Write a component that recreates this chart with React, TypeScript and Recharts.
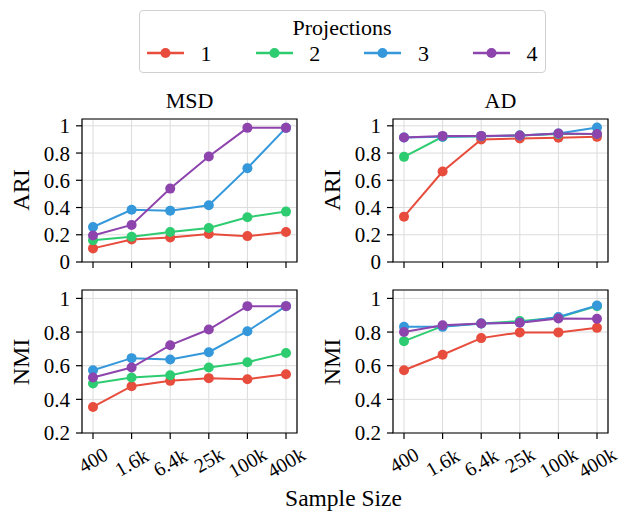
import React from "react";
import { LineChart, Line, XAxis, YAxis, CartesianGrid, ReferenceArea } from "recharts";

const sampleSizes = ["400", "1.6k", "6.4k", "25k", "100k", "400k"];
const projections = ["1", "2", "3", "4"];
const colors = ["#e74c3c", "#2ecc71", "#3498db", "#8e44ad"];

// MSD, ARI per projection
const msdAri1 = [0.1, 0.165, 0.18, 0.205, 0.19, 0.22];
const msdAri2 = [0.16, 0.185, 0.22, 0.25, 0.328, 0.37];
const msdAri3 = [0.257, 0.383, 0.377, 0.417, 0.689, 0.985];
const msdAri4 = [0.194, 0.272, 0.539, 0.775, 0.985, 0.985];

// AD, ARI
const adAri1 = [0.333, 0.664, 0.9, 0.907, 0.912, 0.919];
const adAri2 = [0.772, 0.919, 0.924, 0.929, 0.939, 0.94];
const adAri3 = [0.915, 0.92, 0.924, 0.929, 0.943, 0.988];
const adAri4 = [0.914, 0.926, 0.926, 0.929, 0.943, 0.94];

// MSD, NMI
const msdNmi1 = [0.355, 0.478, 0.51, 0.526, 0.52, 0.549];
const msdNmi2 = [0.494, 0.53, 0.543, 0.589, 0.621, 0.676];
const msdNmi3 = [0.573, 0.645, 0.637, 0.68, 0.805, 0.954];
const msdNmi4 = [0.53, 0.589, 0.722, 0.815, 0.954, 0.954];

// AD, NMI
const adNmi1 = [0.573, 0.665, 0.764, 0.798, 0.798, 0.825];
const adNmi2 = [0.746, 0.835, 0.851, 0.865, 0.887, 0.954];
const adNmi3 = [0.831, 0.831, 0.851, 0.857, 0.89, 0.958];
const adNmi4 = [0.8, 0.841, 0.851, 0.855, 0.881, 0.879];

const ariTicks = [0, 0.2, 0.4, 0.6, 0.8, 1];
const nmiTicks = [0.2, 0.4, 0.6, 0.8, 1];
const xTicks = [0, 1, 2, 3, 4, 5];

const FONT = "'Liberation Serif', 'Times New Roman', serif";
const X_DOMAIN: [number, number] = [-0.285, 5.285];

function RotTick(props: any) {
  const { x, y, payload } = props;
  const label = sampleSizes[payload.value];
  const cy = y + 8 + (label.length * 5 + 11) / 2;
  return (
    <text
      x={x}
      y={cy}
      textAnchor="middle"
      dominantBaseline="central"
      transform={`rotate(-30, ${x}, ${cy})`}
      fontSize={20}
      fontFamily={FONT}
      fill="#000"
    >
      {label}
    </text>
  );
}

function NoTick() {
  return null;
}

interface PanelProps {
  left: number;
  top: number;
  series: number[][];
  yDomain: [number, number];
  yTicks: number[];
  showLabels: boolean;
}

function Panel({ left, top, series, yDomain, yTicks, showLabels }: PanelProps) {
  const data = sampleSizes.map((_, i) => {
    const row: Record<string, number> = { x: i };
    series.forEach((vals, k) => (row[`p${k}`] = vals[i]));
    return row;
  });
  const xHeight = showLabels ? 56 : 16;
  return (
    <div style={{ position: "absolute", left, top }}>
      <LineChart
        width={330}
        height={10 + 143 + xHeight}
        data={data}
        margin={{ top: 10, right: 33, bottom: 0, left: 0 }}
      >
        <CartesianGrid stroke="#dcdcdc" strokeWidth={1} />
        <XAxis
          dataKey="x"
          type="number"
          domain={X_DOMAIN}
          ticks={xTicks}
          interval={0}
          allowDataOverflow
          height={xHeight}
          tickSize={6}
          tickMargin={0}
          axisLine={false}
          tickLine={{ stroke: "#000", strokeWidth: 1.2 }}
          tick={showLabels ? <RotTick /> : <NoTick />}
        />
        <YAxis
          type="number"
          domain={yDomain}
          ticks={yTicks}
          interval={0}
          allowDataOverflow
          width={82}
          tickSize={6}
          tickMargin={6}
          axisLine={false}
          tickLine={{ stroke: "#000", strokeWidth: 1.2 }}
          tick={{ fontSize: 21, fontFamily: FONT, fill: "#000" }}
          tickFormatter={(v: number) => String(v)}
        />
        <ReferenceArea
          x1={X_DOMAIN[0]}
          x2={X_DOMAIN[1]}
          y1={yDomain[0]}
          y2={yDomain[1]}
          fill="none"
          stroke="#000"
          strokeWidth={1.2}
          ifOverflow="visible"
        />
        {series.map((_, k) => (
          <Line
            key={k}
            dataKey={`p${k}`}
            stroke={colors[k]}
            strokeWidth={2}
            dot={{ r: 5, fill: colors[k], stroke: "none" }}
            activeDot={false}
            isAnimationActive={false}
          />
        ))}
      </LineChart>
    </div>
  );
}

function Centered({ x, y, size, rotate, children }: any) {
  return (
    <div
      style={{
        position: "absolute",
        left: x,
        top: y,
        transform: `translate(-50%, -50%)${rotate ? " rotate(-90deg)" : ""}`,
        fontSize: size,
        fontFamily: FONT,
        lineHeight: 1,
        whiteSpace: "nowrap",
        color: "#000",
      }}
    >
      {children}
    </div>
  );
}

function LegendBox() {
  return (
    <div
      style={{
        position: "absolute",
        left: 139,
        top: 10,
        width: 405,
        height: 61,
        border: "1px solid #d0d0d0",
        borderRadius: 4,
        fontFamily: FONT,
      }}
    >
      <Centered x={202} y={17} size={22}>
        Projections
      </Centered>
      {projections.map((p, k) => {
        const lx = 7 + k * 108.7;
        return (
          <React.Fragment key={p}>
            <svg
              style={{ position: "absolute", left: lx, top: 35.5 }}
              width={37}
              height={12}
            >
              <line x1={0} y1={6} x2={37} y2={6} stroke={colors[k]} strokeWidth={2.5} />
              <circle cx={18.5} cy={6} r={5} fill={colors[k]} />
            </svg>
            <Centered x={lx + 59} y={42.5} size={22}>
              {p}
            </Centered>
          </React.Fragment>
        );
      })}
    </div>
  );
}

export default function App() {
  return (
    <div
      style={{
        position: "absolute",
        left: 0,
        top: 0,
        width: 619,
        height: 512,
        background: "#fff",
        overflow: "hidden",
      }}
    >
      <LegendBox />
      <Centered x={189.5} y={100.5} size={22}>MSD</Centered>
      <Centered x={500.5} y={100.5} size={22}>AD</Centered>
      <Centered x={20.5} y={190} size={24} rotate>ARI</Centered>
      <Centered x={331.5} y={190} size={24} rotate>ARI</Centered>
      <Centered x={20.5} y={361.5} size={24} rotate>NMI</Centered>
      <Centered x={331.5} y={361.5} size={24} rotate>NMI</Centered>
      <Centered x={343.5} y={499} size={23.5}>Sample Size</Centered>

      <Panel
        left={0}
        top={109}
        series={[msdAri1, msdAri2, msdAri3, msdAri4]}
        yDomain={[0, 1.05]}
        yTicks={ariTicks}
        showLabels={false}
      />
      <Panel
        left={311}
        top={109}
        series={[adAri1, adAri2, adAri3, adAri4]}
        yDomain={[0, 1.05]}
        yTicks={ariTicks}
        showLabels={false}
      />
      <Panel
        left={0}
        top={280}
        series={[msdNmi1, msdNmi2, msdNmi3, msdNmi4]}
        yDomain={[0.2, 1.05]}
        yTicks={nmiTicks}
        showLabels
      />
      <Panel
        left={311}
        top={280}
        series={[adNmi1, adNmi2, adNmi3, adNmi4]}
        yDomain={[0.2, 1.05]}
        yTicks={nmiTicks}
        showLabels
      />
    </div>
  );
}
